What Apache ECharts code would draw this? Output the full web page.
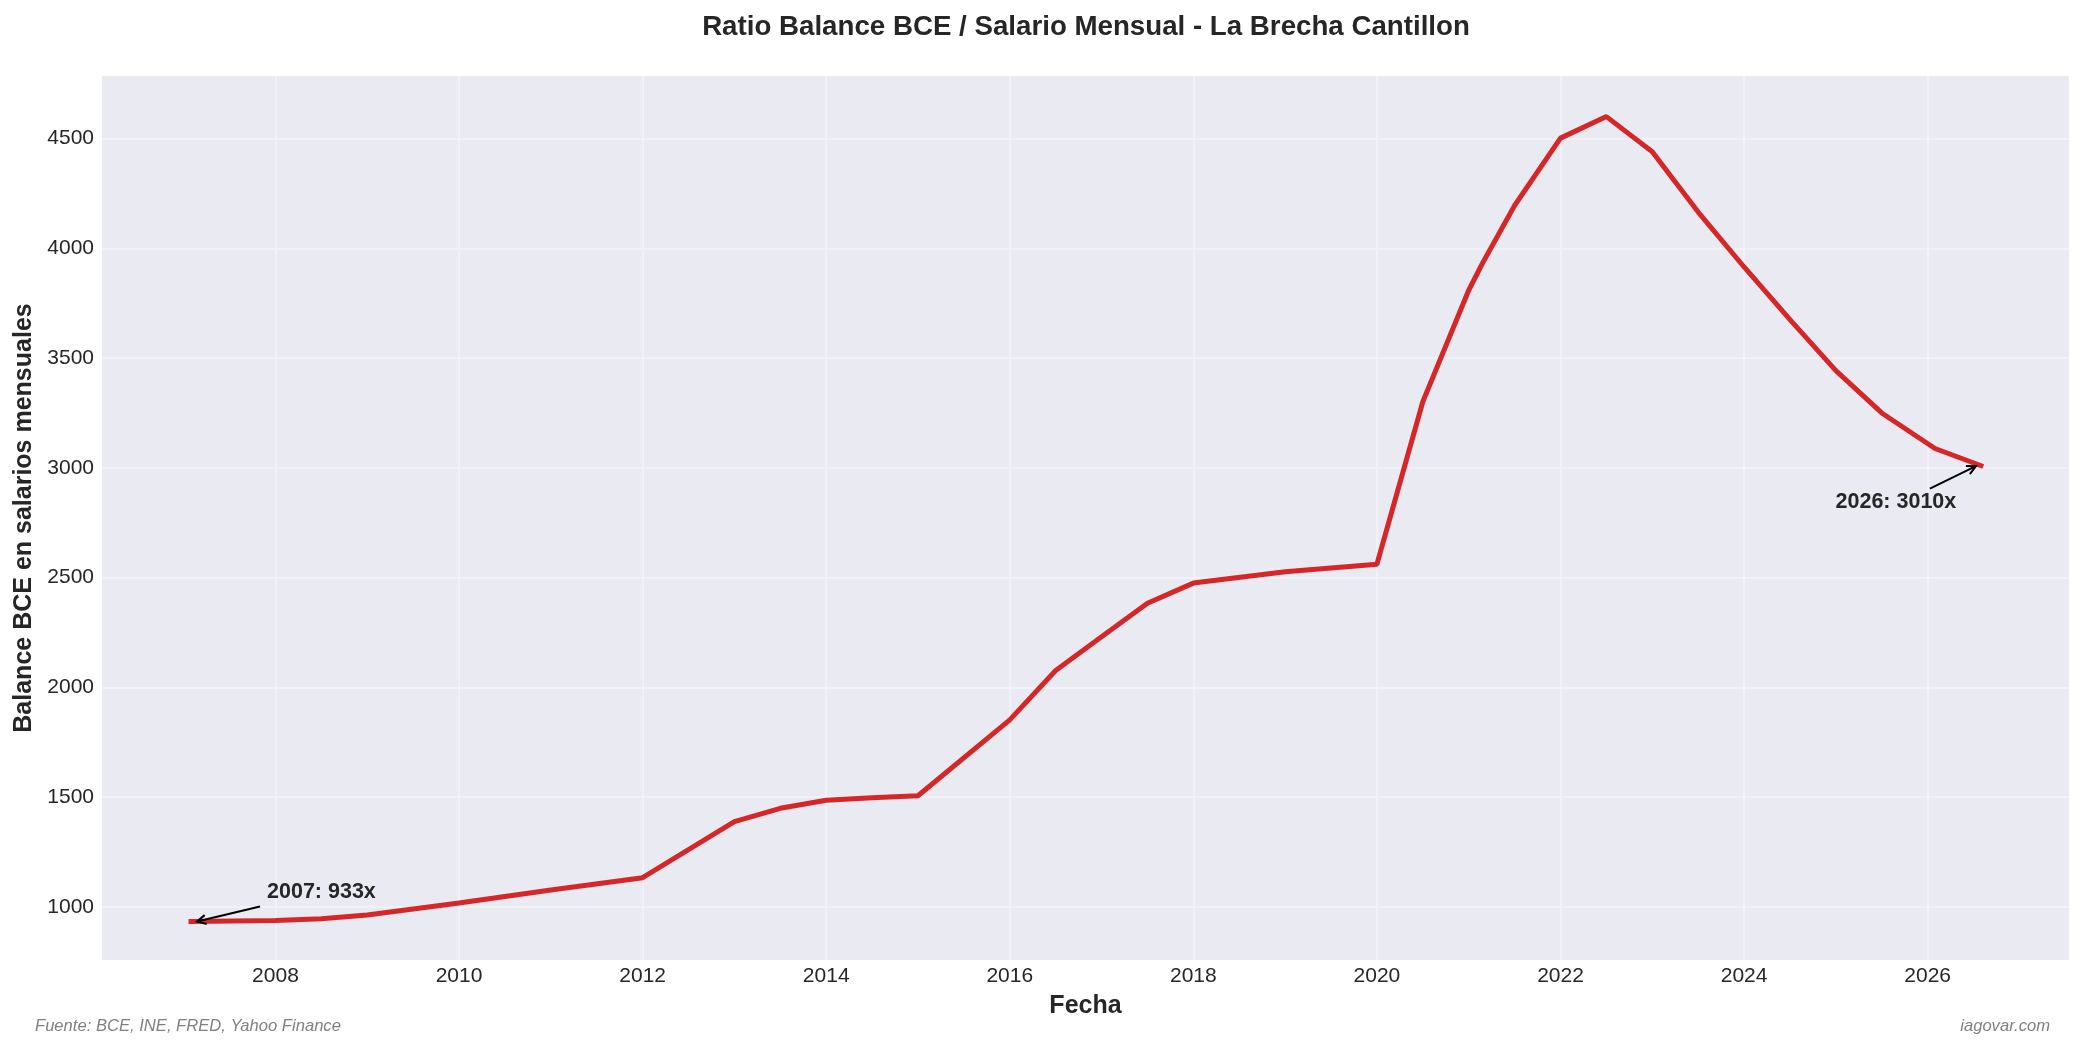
<!DOCTYPE html>
<html>
<head>
<meta charset="utf-8">
<script src="https://cdn.jsdelivr.net/npm/echarts@6/dist/echarts.min.js"></script>
<style>
  html, body { margin: 0; padding: 0; background: #fff; }
  #chart { width: 2085px; height: 1051px; }
</style>
</head>
<body>
<div id="chart"></div>
<script>
// ratio balance BCE / salario mensual
var years = [2007.08, 2008.0, 2008.5, 2009.0, 2010.0, 2011.0, 2012.0, 2013.0, 2013.5, 2014.0,
             2014.5, 2015.0, 2016.0, 2016.5, 2017.0, 2017.5, 2018.0, 2019.0, 2020.0, 2020.5,
             2021.0, 2021.15, 2021.5, 2022.0, 2022.5, 2023.0, 2023.5, 2024.0, 2024.5, 2025.0,
             2025.5, 2026.08, 2026.58];
var ratio = [933, 938, 946, 963, 1018, 1077, 1133, 1388, 1449, 1486,
             1497, 1506, 1852, 2077, 2231, 2383, 2475, 2527, 2561, 3301,
             3809, 3932, 4195, 4502, 4600, 4440, 4165, 3915, 3675, 3443,
             3250, 3088, 3010];

var xTicks = [2008, 2010, 2012, 2014, 2016, 2018, 2020, 2022, 2024, 2026];
var yTicks = [1000, 1500, 2000, 2500, 3000, 3500, 4000, 4500];

// annotations: first and last point
var annYears = [2007.08, 2026.58];
var annValues = [933, 3010];
var annLabels = ['2007: 933x', '2026: 3010x'];

var FONT = '"Liberation Sans", Arial, sans-serif';
var INK = '#262626';
var GRID = '#F3F3F7';

var chart = echarts.init(document.getElementById('chart'));

var points = years.map(function (y, i) { return [y, ratio[i]]; });

var option = {
    backgroundColor: '#ffffff',
    animation: false,
    title: [
        {
            text: 'Ratio Balance BCE / Salario Mensual - La Brecha Cantillon',
            left: 1081, top: 8, textAlign: 'center',
            textStyle: { fontFamily: FONT, fontSize: 27.7, fontWeight: 'bold', color: INK }
        },
        {
            text: 'Fuente: BCE, INE, FRED, Yahoo Finance',
            left: 30, top: 1013,
            textStyle: { fontFamily: FONT, fontSize: 16.6, fontStyle: 'italic', fontWeight: 'normal', color: '#808080' }
        },
        {
            text: 'iagovar.com',
            right: 30, top: 1013,
            textStyle: { fontFamily: FONT, fontSize: 16.6, fontStyle: 'italic', fontWeight: 'normal', color: '#808080' }
        }
    ],
    grid: {
        left: 102, right: 16, top: 76, bottom: 91,
        show: true, backgroundColor: '#EAEAF2', borderWidth: 0
    },
    xAxis: {
        type: 'value',
        min: 2006.11, max: 2027.54,
        name: 'Fecha', nameLocation: 'middle', nameGap: 34,
        nameTextStyle: { fontFamily: FONT, fontSize: 25, fontWeight: 'bold', color: INK },
        axisLine: { show: false },
        axisTick: { show: false, customValues: xTicks },
        axisLabel: {
            customValues: xTicks, margin: 6,
            fontFamily: FONT, fontSize: 21, color: INK,
            formatter: function (v) { return String(v); }
        },
        splitLine: { show: true, lineStyle: { color: GRID, width: 1.5 } }
    },
    yAxis: {
        type: 'value',
        min: 758, max: 4785,
        name: 'Balance BCE en salarios mensuales', nameLocation: 'middle', nameGap: 60,
        nameTextStyle: { fontFamily: FONT, fontSize: 25, fontWeight: 'bold', color: INK },
        axisLine: { show: false },
        axisTick: { show: false, customValues: yTicks },
        axisLabel: {
            customValues: yTicks, margin: 8,
            fontFamily: FONT, fontSize: 21, color: INK,
            formatter: function (v) { return String(v); }
        },
        splitLine: { show: true, lineStyle: { color: GRID, width: 1.5 } }
    },
    series: [{
        type: 'line',
        data: points,
        showSymbol: false,
        lineStyle: { color: '#D62728', width: 5, cap: 'square' },
        z: 3
    }]
};

chart.setOption(option);

// arrows and text for the two annotations, placed from data coordinates
var annOffsets = [
    { head: [6, 0], tail: [69, -15], text: [76, -30], align: 'left' },
    { head: [-5, 0.5], tail: [-51, 23], text: [-85, 36], align: 'center' }
];
var graphics = [];
annYears.forEach(function (yr, i) {
    var p = chart.convertToPixel({ gridIndex: 0 }, [yr, annValues[i]]);
    var o = annOffsets[i];
    var hx = p[0] + o.head[0], hy = p[1] + o.head[1];
    var tx = p[0] + o.tail[0], ty = p[1] + o.tail[1];
    var ang = Math.atan2(ty - hy, tx - hx);
    var len = 10, spread = 0.47;
    graphics.push({
        type: 'line', z: 10,
        shape: { x1: tx, y1: ty, x2: hx, y2: hy },
        style: { stroke: '#000', lineWidth: 2 }
    });
    graphics.push({
        type: 'polyline', z: 10,
        shape: { points: [
            [hx + len * Math.cos(ang + spread), hy + len * Math.sin(ang + spread)],
            [hx, hy],
            [hx + len * Math.cos(ang - spread), hy + len * Math.sin(ang - spread)]
        ] },
        style: { stroke: '#000', lineWidth: 2, fill: null }
    });
    graphics.push({
        type: 'text', z: 10,
        x: p[0] + o.text[0], y: p[1] + o.text[1],
        style: {
            text: annLabels[i], fill: INK,
            font: 'bold 21.5px ' + FONT,
            align: o.align, verticalAlign: 'middle'
        }
    });
});
chart.setOption({ graphic: graphics });
</script>
</body>
</html>
